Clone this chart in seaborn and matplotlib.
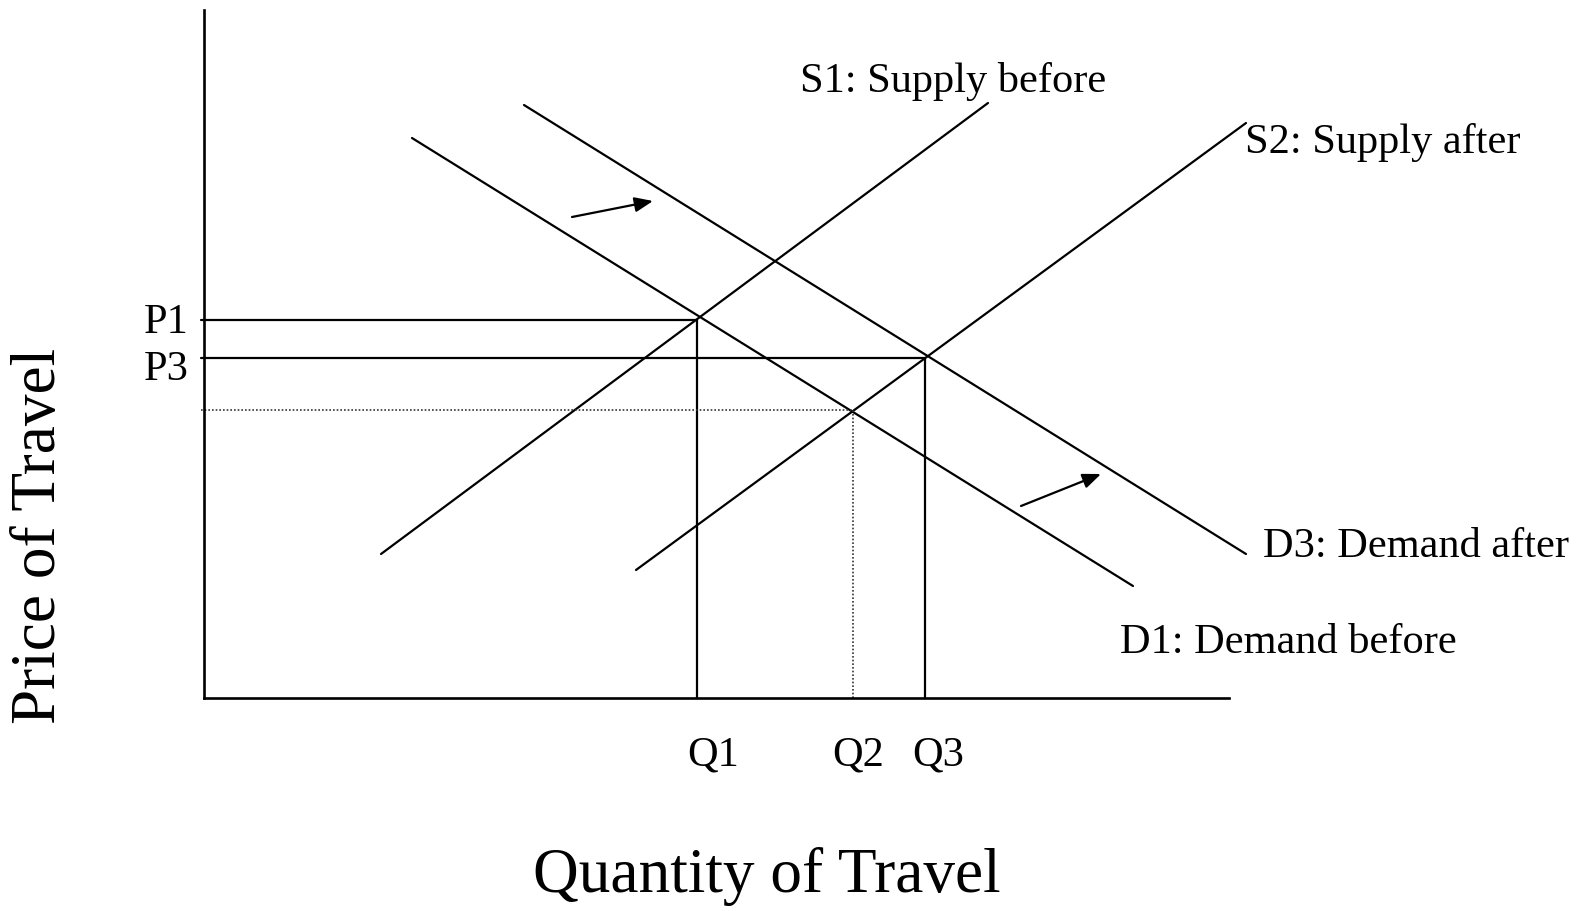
import pandas as pd
import matplotlib
matplotlib.use("Agg")
import matplotlib.pyplot as plt
import seaborn as sns

# curve end points (quantity, price)
curve_names = ["S1", "S2", "D1", "D3"]
curve_q = [[17.7, 78.4], [43.2, 104.2], [20.8, 92.9], [32.0, 104.2]]
curve_p = [[14.4, 59.5], [12.8, 57.5], [56.0, 11.2], [59.3, 14.4]]
curve_labels = ["S1: Supply before", "S2: Supply after", "D1: Demand before", "D3: Demand after"]

# equilibria
eq_names = ["1", "2", "3"]
eq_q = [49.3, 64.9, 72.1]
eq_p = [37.8, 28.8, 34.0]
eq_dotted = [False, True, False]

# demand shift arrows (tail -> head)
arrow_tail = [(36.8, 48.1), (81.7, 19.2)]
arrow_head = [(44.9, 49.7), (89.7, 22.4)]

x_max, y_max = 102.5, 68.8

rows = []
for name, qs, ps in zip(curve_names, curve_q, curve_p):
    for q, p in zip(qs, ps):
        rows.append({"curve": name, "q": q, "p": p})
curves = pd.DataFrame(rows)

guide_rows = []
for name, q, p, dot in zip(eq_names, eq_q, eq_p, eq_dotted):
    # vertical from axis up to equilibrium, horizontal from axis to it
    guide_rows += [
        {"seg": "v" + name, "q": q, "p": 0, "dotted": dot},
        {"seg": "v" + name, "q": q, "p": p, "dotted": dot},
        {"seg": "h" + name, "q": -0.3, "p": p, "dotted": dot},
        {"seg": "h" + name, "q": q, "p": p, "dotted": dot},
    ]
guides = pd.DataFrame(guide_rows)

sns.set_style("white")
plt.rcParams["font.family"] = ["Liberation Serif", "DejaVu Serif"]
plt.rcParams["text.color"] = "black"

fig = plt.figure(figsize=(15.79, 9.11), dpi=100)
ax = fig.add_axes([204 / 1579, 213 / 911, 1025 / 1579, 688 / 911])

sns.lineplot(data=curves, x="q", y="p", units="curve", estimator=None,
             sort=False, color="black", linewidth=1.6, ax=ax)
sns.lineplot(data=guides[~guides.dotted], x="q", y="p", units="seg", estimator=None,
             sort=False, color="black", linewidth=1.6, ax=ax)
sns.lineplot(data=guides[guides.dotted], x="q", y="p", units="seg", estimator=None,
             sort=False, color="#333333", linewidth=1.2, linestyle=(0, (1, 1.2)), ax=ax)
for ln in ax.get_lines():
    ln.set_clip_on(False)

for t, h in zip(arrow_tail, arrow_head):
    ax.annotate("", xy=h, xytext=t, annotation_clip=False,
                arrowprops=dict(arrowstyle="-|>,head_length=1.1,head_width=0.45",
                                color="black", lw=1.6, shrinkA=0, shrinkB=0))

ax.set_xlim(0, x_max)
ax.set_ylim(0, y_max)
ax.set_xticks([])
ax.set_yticks([])
ax.set_xlabel("")
ax.set_ylabel("")
for side in ["top", "right"]:
    ax.spines[side].set_visible(False)
for side in ["left", "bottom"]:
    ax.spines[side].set_color("black")
    ax.spines[side].set_linewidth(1.9)

fs = 30.5
label_pos = {"S1": (59.6, 61.6), "S2": (104.1, 55.5), "D1": (91.6, 5.5), "D3": (105.9, 15.1)}
for name, lab in zip(curve_names, curve_labels):
    ax.text(*label_pos[name], lab, fontsize=fs, ha="left", va="center", clip_on=False)

ax.text(-1.5, 37.5, "P" + eq_names[0], fontsize=fs, ha="right", va="center")
ax.text(-1.5, 32.8, "P" + eq_names[2], fontsize=fs, ha="right", va="center")
for name, x in zip(eq_names, [50.9, 65.4, 73.4]):
    ax.text(x, -5.7, "Q" + name, fontsize=fs, ha="center", va="center")

fig.text(767 / 1579, 1 - 877 / 911, "Quantity of Travel", fontsize=45.5, ha="center", va="center")
fig.text(40 / 1579, 1 - 536 / 911, "Price of Travel", fontsize=45.5, ha="center", va="center",
         rotation=90)

fig.savefig("out.png", dpi=100, facecolor="white")
